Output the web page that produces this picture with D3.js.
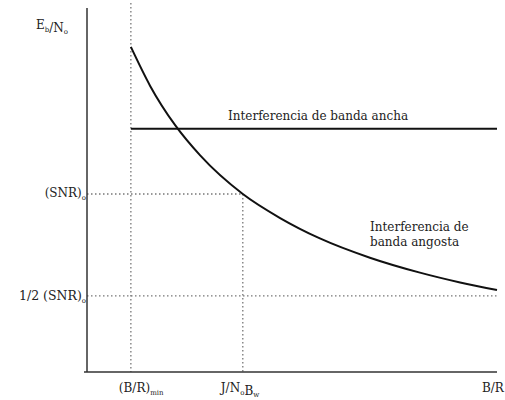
<!DOCTYPE html>
<html>
<head>
<meta charset="utf-8">
<script src="https://cdn.jsdelivr.net/npm/d3@7"></script>
<style>
  body { margin: 0; background: #fff; }
  text { font-family: "DejaVu Serif", serif; fill: #222; }
</style>
</head>
<body>
<svg id="chart"></svg>
<script>
// Narrowband interference curve (x = B/R, y = Eb/No)
var curveX = [10.7, 15.4, 21.5, 27.6, 38.0, 47.1, 56.8, 69.0, 81.2, 91.0, 100];
var curveY = [89.3, 78.6, 67.8, 59.5, 48.9, 42.3, 36.7, 31.4, 27.3, 24.6, 22.5];

// Wideband interference level and marker positions
var widebandY = 66.8;
var snrY = 48.9;
var halfSnrY = 20.9;
var brMinX = 10.7;
var jnbX = 38.0;

const width = 505, height = 400;
const margin = { top: 8, right: 8, bottom: 28, left: 87 };

const svg = d3.select("#chart")
    .attr("width", width)
    .attr("height", height);

const xScale = d3.scaleLinear()
    .domain([0, 100])
    .range([margin.left, width - margin.right]);

const yScale = d3.scaleLinear()
    .domain([0, 100])
    .range([height - margin.bottom, margin.top]);

const x0 = xScale(0), y0 = yScale(0);

// dotted guide lines
function dotted(x1, y1, x2, y2) {
    svg.append("line")
        .attr("x1", x1).attr("y1", y1)
        .attr("x2", x2).attr("y2", y2)
        .attr("stroke", "#777")
        .attr("stroke-width", 1.3)
        .attr("stroke-dasharray", "1.5,2.5");
}
dotted(xScale(brMinX), yScale(101.4), xScale(brMinX), y0);
dotted(xScale(jnbX), yScale(snrY), xScale(jnbX), y0);
dotted(x0, yScale(snrY), xScale(jnbX), yScale(snrY));
dotted(x0, yScale(halfSnrY), xScale(100), yScale(halfSnrY));

// axes (plain lines, no ticks)
svg.append("line")
    .attr("x1", x0).attr("y1", yScale(100))
    .attr("x2", x0).attr("y2", y0)
    .attr("stroke", "#333").attr("stroke-width", 1.5);
svg.append("line")
    .attr("x1", x0 - 3).attr("y1", y0)
    .attr("x2", xScale(100)).attr("y2", y0)
    .attr("stroke", "#333").attr("stroke-width", 1.5);

// wideband interference line
svg.append("line")
    .attr("x1", xScale(brMinX)).attr("y1", yScale(widebandY))
    .attr("x2", xScale(100)).attr("y2", yScale(widebandY))
    .attr("stroke", "#111").attr("stroke-width", 2);

// narrowband interference curve
const line = d3.line()
    .x((d, i) => xScale(curveX[i]))
    .y(d => yScale(d))
    .curve(d3.curveMonotoneX);

svg.append("path")
    .attr("d", line(curveY))
    .attr("fill", "none")
    .attr("stroke", "#111")
    .attr("stroke-width", 2);

// label helper: main text with subscript parts
function label(x, y, parts, anchor) {
    const t = svg.append("text")
        .attr("x", x).attr("y", y)
        .attr("font-size", 12)
        .attr("text-anchor", anchor || "start");
    parts.forEach(function(p) {
        if (p.sub) {
            t.append("tspan").attr("font-size", 7).attr("dy", 2.5).text(p.sub);
            t.append("tspan").attr("font-size", 12).attr("dy", -2.5).text("");
        } else {
            t.append("tspan").text(p.t);
        }
    });
    return t;
}

label(36, 29, [{t: "E"}, {sub: "b"}, {t: "/N"}, {sub: "o"}]);
label(86, 197, [{t: "(SNR)"}, {sub: "o"}], "end");
label(86, 300, [{t: "1/2  (SNR)"}, {sub: "o"}], "end").attr("font-size", 12.5);
label(xScale(brMinX) - 12, 392, [{t: "(B/R)"}, {sub: "min"}]);
label(xScale(jnbX) - 22, 392, [{t: "J/N"}, {sub: "o"}, {t: "B"}, {sub: "w"}]);
label(482, 392, [{t: "B/R"}]);

label(228, 120, [{t: "Interferencia de banda ancha"}]);
label(370, 231, [{t: "Interferencia de"}]);
label(370, 246, [{t: "banda angosta"}]);
</script>
</body>
</html>
